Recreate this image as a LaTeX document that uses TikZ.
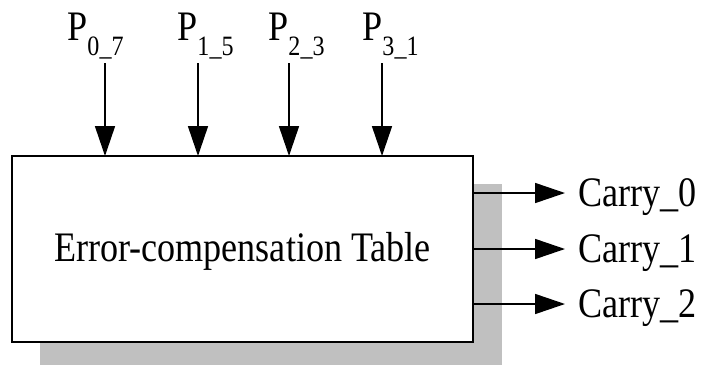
\documentclass[tikz,border=0pt]{standalone}
\usepackage{fontspec}
\setmainfont[FakeStretch=0.86]{Liberation Serif}
\usepackage{tikz}
\usetikzlibrary{arrows.meta}
\definecolor{shadowgray}{RGB}{192,192,192}

% subscript set lower and smaller, as in P_{0_7}
\newcommand{\psub}[1]{\raisebox{-7.5pt}{\fontsize{14}{16}\selectfont #1}}

\tikzset{
	sig/.style={line width=0.8pt, -{Triangle[length=15pt,width=10pt]}},
	lbl/.style={inner sep=0pt, font=\fontsize{21}{24}\selectfont}
}

\begin{document}
\begin{tikzpicture}[x=0.5pt, y=-0.5pt]
						\useasboundingbox (0,0) rectangle (701,365);

						\def\topy{63}

						% table block and its shadow
						\coordinate (tl) at (12,156);
						\coordinate (br) at (473,342);
						\fill[shadowgray] (40,184) rectangle (502,365);
						\draw[line width=1pt, fill=white] (tl) rectangle (br);
						\node[lbl, anchor=base] (tbl) at (242.5,261) {Error-compensation Table};

						% inputs
						\coordinate (a0) at (105,\topy);
						\coordinate (a1) at (198,\topy);
						\coordinate (a2) at (289,\topy);
						\coordinate (a3) at (382,\topy);

						\node[lbl, anchor=base west] (p0) at (67,40) {P\psub{0\_7}};
						\node[lbl, anchor=base west] (p1) at (177,40) {P\psub{1\_5}};
						\node[lbl, anchor=base west] (p2) at (268,40) {P\psub{2\_3}};
						\node[lbl, anchor=base west] (p3) at (362,40) {P\psub{3\_1}};

						\draw[sig] (a0) -- (a0 |- tl);
						\draw[sig] (a1) -- (a1 |- tl);
						\draw[sig] (a2) -- (a2 |- tl);
						\draw[sig] (a3) -- (a3 |- tl);

						% outputs
						\coordinate (c0) at (473,193);
						\coordinate (c1) at (473,249);
						\coordinate (c2) at (473,304);

						\coordinate (e0) at (565,193);
						\coordinate (e1) at (565,249);
						\coordinate (e2) at (565,304);

						\node[lbl, anchor=base west] (carry0) at (578,206.5) {Carry\_0};
						\node[lbl, anchor=base west] (carry1) at (578,262.5) {Carry\_1};
						\node[lbl, anchor=base west] (carry2) at (578,317.5) {Carry\_2};

						\draw[sig] (c0) -- (e0);
						\draw[sig] (c1) -- (e1);
						\draw[sig] (c2) -- (e2);
					\end{tikzpicture}
\end{document}
